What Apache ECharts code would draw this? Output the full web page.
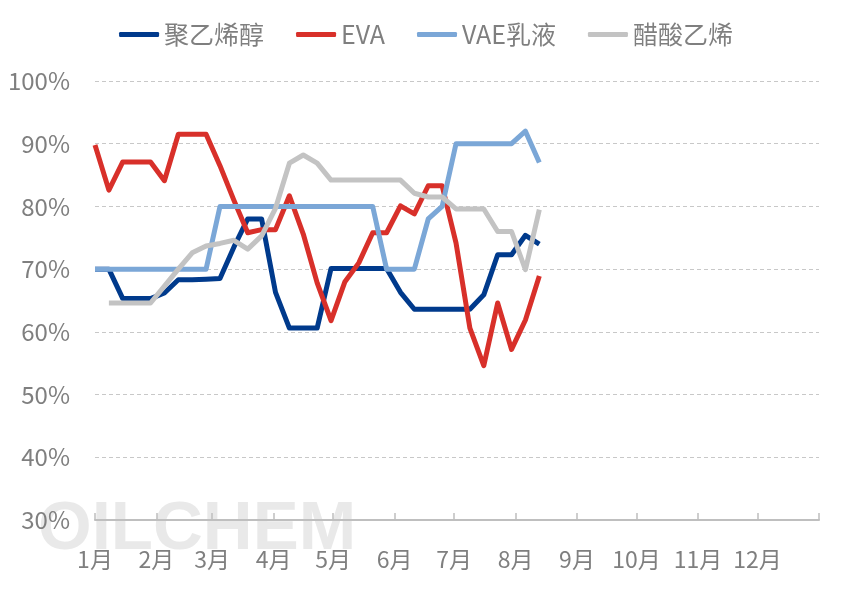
<!DOCTYPE html>
<html>
<head>
<meta charset="utf-8">
<script src="https://cdn.jsdelivr.net/npm/echarts@6/dist/echarts.min.js"></script>
<style>
    html, body {margin: 0; padding: 0; background: #fff;}
    #main {width: 852px; height: 600px;}
</style>
</head>
<body>
<div id="main"></div>
<script>
// 周数据，横轴用一年中的第几天
var days = [0, 7, 14, 21, 28, 35, 42, 49, 56, 63, 70, 77, 84, 91, 98, 105, 112,
            119, 126, 133, 140, 147, 154, 161, 168, 175, 182, 189, 196, 203, 210, 217, 224];

var pva = [70.0, 70.0, 65.3, 65.3, 65.3, 66.2, 68.3, 68.3, 68.4, 68.5, 73.5, 78.0, 78.0, 66.3, 60.6, 60.6, 60.6,
           70.1, 70.1, 70.1, 70.1, 70.1, 66.3, 63.6, 63.6, 63.6, 63.6, 63.6, 65.9, 72.3, 72.3, 75.4, 74.0];
var eva = [89.8, 82.6, 87.1, 87.1, 87.1, 84.1, 91.5, 91.5, 91.5, 86.5, 81.0, 75.8, 76.3, 76.3, 81.7, 75.6, 67.8,
           61.8, 68.0, 71.0, 75.8, 75.8, 80.1, 78.8, 83.3, 83.3, 74.2, 60.6, 54.6, 64.6, 57.2, 61.9, 68.9];
var vae = [70, 70, 70, 70, 70, 70, 70, 70, 70, 80, 80, 80, 80, 80, 80, 80, 80,
           80, 80, 80, 80, 70, 70, 70, 78.0, 80, 90, 90, 90, 90, 90, 92.0, 87.0];
var vam = [null, 64.6, 64.6, 64.6, 64.6, 67.3, 70.0, 72.6, 73.7, 74.1, 74.6, 73.2, 75.3, 79.7, 86.9, 88.2, 86.9,
           84.2, 84.2, 84.2, 84.2, 84.2, 84.2, 82.1, 81.5, 81.5, 79.6, 79.6, 79.6, 76.0, 76.0, 69.9, 79.5];

var monthStarts = [0, 31, 59, 90, 120, 151, 181, 212, 243, 273, 304, 334];
var monthLabels = ['1月', '2月', '3月', '4月', '5月', '6月', '7月', '8月', '9月', '10月', '11月', '12月'];
var yearEnd = 365;

function pairs(values){
    var out = [];
    for (var i = 0; i < days.length; i++) {
        out.push([days[i], values[i]]);
    }
    return out;
}

function make_series(name, values, color){
    return {
        name: name,
        type: 'line',
        data: pairs(values),
        symbol: 'none',
        connectNulls: false,
        lineStyle: {width: 5, color: color, join: 'round'},
        itemStyle: {color: color}
    };
}

var font = '"Noto Sans CJK SC", "Noto Sans", sans-serif';
var myChart = echarts.init(document.getElementById('main'));

var option = {
    animation: false,
    backgroundColor: '#ffffff',
    legend: {
        top: 17,
        left: 'center',
        icon: 'roundRect',
        itemWidth: 40,
        itemHeight: 5,
        itemGap: 32,
        textStyle: {fontSize: 25, color: '#7f7f7f', fontFamily: font}
    },
    grid: {left: 95, right: 33, top: 81, bottom: 80},
    xAxis: {
        type: 'value',
        min: 0,
        max: yearEnd,
        splitLine: {show: false},
        axisLine: {lineStyle: {color: '#bfbfbf', width: 2}},
        axisTick: {
            inside: true,
            length: 7,
            lineStyle: {color: '#bfbfbf', width: 1.5},
            customValues: monthStarts.concat([yearEnd])
        },
        axisLabel: {
            customValues: monthStarts,
            margin: 28,
            fontSize: 23,
            color: '#7f7f7f',
            fontFamily: font,
            formatter: function(value){
                return monthLabels[monthStarts.indexOf(value)];
            }
        }
    },
    yAxis: {
        type: 'value',
        min: 30,
        max: 100,
        interval: 10,
        axisLine: {show: false},
        axisTick: {show: false},
        splitLine: {lineStyle: {color: '#c8c8c8', type: [4, 3], width: 1}},
        axisLabel: {
            margin: 25,
            fontSize: 24,
            color: '#7f7f7f',
            fontFamily: font,
            formatter: '{value}%'
        }
    },
    graphic: [{
        type: 'text',
        left: 38,
        top: 495,
        z: -1,
        silent: true,
        style: {
            text: 'OILCHEM',
            font: 'bold 69px "Liberation Sans", Arial, sans-serif',
            fill: 'rgba(200,200,200,0.4)'
        }
    }],
    series: [
        make_series('聚乙烯醇', pva, '#003a8c'),
        make_series('EVA', eva, '#d8302a'),
        make_series('VAE乳液', vae, '#7ba7d7'),
        make_series('醋酸乙烯', vam, '#c3c3c3')
    ]
};

myChart.setOption(option);
</script>
</body>
</html>
